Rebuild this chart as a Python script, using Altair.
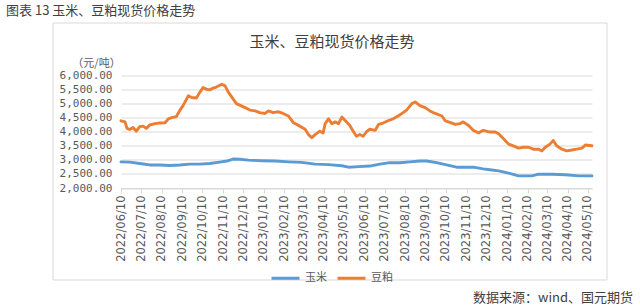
import altair as alt
import pandas as pd

# ---- data ----
meal_dates = [
    "2022/06/10", "2022/06/16", "2022/06/19", "2022/06/23", "2022/06/28", "2022/07/03", "2022/07/08",
    "2022/07/13", "2022/07/18", "2022/07/23", "2022/07/31", "2022/08/07", "2022/08/15", "2022/08/20",
    "2022/08/25", "2022/09/01", "2022/09/06", "2022/09/11", "2022/09/19", "2022/09/24", "2022/10/01",
    "2022/10/06", "2022/10/11", "2022/10/16", "2022/10/21", "2022/10/26", "2022/10/31", "2022/11/08",
    "2022/11/13", "2022/11/18", "2022/11/25", "2022/11/30", "2022/12/13", "2022/12/20", "2022/12/28",
    "2023/01/04", "2023/01/12", "2023/01/17", "2023/01/24", "2023/02/01", "2023/02/08", "2023/02/16",
    "2023/02/23", "2023/03/05", "2023/03/13", "2023/03/18", "2023/03/23", "2023/03/28", "2023/04/04",
    "2023/04/09", "2023/04/12", "2023/04/17", "2023/04/22", "2023/04/27", "2023/05/02", "2023/05/07",
    "2023/05/12", "2023/05/19", "2023/05/24", "2023/05/29", "2023/06/03", "2023/06/08", "2023/06/13",
    "2023/06/18", "2023/06/26", "2023/07/01", "2023/07/08", "2023/07/16", "2023/07/23", "2023/07/31",
    "2023/08/07", "2023/08/12", "2023/08/20", "2023/08/25", "2023/09/01", "2023/09/09", "2023/09/16",
    "2023/09/24", "2023/10/04", "2023/10/09", "2023/10/16", "2023/10/24", "2023/10/31", "2023/11/05",
    "2023/11/13", "2023/11/20", "2023/11/28", "2023/12/05", "2023/12/15", "2023/12/23", "2023/12/28",
    "2024/01/04", "2024/01/12", "2024/01/19", "2024/01/27", "2024/02/03", "2024/02/11", "2024/02/18",
    "2024/02/26", "2024/03/02", "2024/03/07", "2024/03/14", "2024/03/19", "2024/03/24", "2024/04/01",
    "2024/04/08", "2024/04/16", "2024/04/23", "2024/05/01", "2024/05/06", "2024/05/16",
]
meal_values = [
    4390, 4350, 4120, 4080, 4150, 4020, 4180,
    4200, 4120, 4240, 4290, 4310, 4320, 4460,
    4500, 4540, 4750, 4930, 5280, 5220, 5200,
    5400, 5570, 5510, 5490, 5550, 5590, 5690,
    5630, 5400, 5170, 5000, 4860, 4770, 4740,
    4680, 4650, 4740, 4680, 4710, 4650, 4560,
    4330, 4200, 4090, 3900, 3790, 3900, 4020,
    3960, 4290, 4460, 4290, 4350, 4290, 4520,
    4400, 4220, 4020, 3840, 3900, 3840, 4000,
    4090, 4050, 4260, 4310, 4400, 4460, 4570,
    4680, 4770, 5000, 5060, 4930, 4860, 4740,
    4650, 4560, 4390, 4330, 4260, 4290, 4350,
    4220, 4050, 3960, 4050, 3990, 3990, 3930,
    3760, 3560, 3500, 3420, 3450, 3450, 3380,
    3380, 3320, 3450, 3560, 3690, 3500, 3380,
    3320, 3350, 3380, 3420, 3530, 3500,
]

corn_dates = [
    "2022/06/10", "2022/06/23", "2022/07/08", "2022/07/23", "2022/08/07", "2022/08/22", "2022/09/06",
    "2022/09/21", "2022/10/06", "2022/10/21", "2022/11/05", "2022/11/18", "2022/11/25", "2022/12/05",
    "2022/12/18", "2023/01/07", "2023/01/27", "2023/02/16", "2023/03/08", "2023/03/28", "2023/04/17",
    "2023/05/07", "2023/05/17", "2023/06/01", "2023/06/18", "2023/07/03", "2023/07/18", "2023/08/02",
    "2023/08/17", "2023/09/01", "2023/09/11", "2023/09/26", "2023/10/11", "2023/10/26", "2023/11/10",
    "2023/11/20", "2023/12/05", "2023/12/15", "2023/12/28", "2024/01/12", "2024/01/27", "2024/02/16",
    "2024/02/26", "2024/03/17", "2024/04/06", "2024/04/26", "2024/05/16",
]
corn_values = [
    2930, 2920, 2870, 2820, 2820, 2800, 2820,
    2850, 2850, 2870, 2920, 2970, 3030, 3020,
    2990, 2970, 2960, 2930, 2910, 2850, 2830,
    2790, 2740, 2760, 2780, 2850, 2900, 2900,
    2930, 2960, 2960, 2900, 2820, 2740, 2740,
    2740, 2680, 2650, 2610, 2530, 2430, 2430,
    2490, 2490, 2470, 2430, 2430,
]

series_names = ["玉米", "豆粕"]
series_colors = ["#5b9bd5", "#ed7d31"]
y_ticks = [2000, 2500, 3000, 3500, 4000, 4500, 5000, 5500, 6000]
x_tick_months = [(2022, m) for m in range(6, 13)] + [(2023, m) for m in range(1, 13)] + [(2024, m) for m in range(1, 6)]

fig_title = "图表 13 玉米、豆粕现货价格走势"
chart_title = "玉米、豆粕现货价格走势"
unit_text = "（元/吨）"
source_text = "数据来源：wind、国元期货"

# ---- build table ----
df = pd.concat([
    pd.DataFrame({"date": corn_dates, "value": corn_values, "series": series_names[0]}),
    pd.DataFrame({"date": meal_dates, "value": meal_values, "series": series_names[1]}),
], ignore_index=True)

W, H = 471, 112.5
CJK = "Noto Sans CJK SC"

x_values = [alt.DateTime(year=y, month=m, date=10) for y, m in x_tick_months]

lines = alt.Chart(df).mark_line(strokeWidth=2.9, strokeJoin="round", strokeCap="round").encode(
    x=alt.X("date:T",
            scale=alt.Scale(domain=[alt.DateTime(year=2022, month=6, date=10),
                                    alt.DateTime(year=2024, month=5, date=16)]),
            axis=alt.Axis(title=None, values=x_values, format="%Y/%m/%d", labelAngle=270,
                          labelFont="DejaVu Sans", labelFontSize=11.5, labelColor="#595959",
                          labelPadding=2, tickSize=5, tickColor="#d9d9d9", domainColor="#d9d9d9",
                          grid=False, labelOverlap=False, labelFlush=False)),
    y=alt.Y("value:Q",
            scale=alt.Scale(domain=[2000, 6000], nice=False, zero=False),
            axis=alt.Axis(values=y_ticks, format=",.2f", labelFont="DejaVu Sans Mono",
                          labelFontSize=11, labelColor="#595959", labelPadding=9,
                          ticks=False, domain=False, grid=True, gridColor="#d9d9d9",
                          title=unit_text, titleAngle=0, titleAlign="center", titleBaseline="middle",
                          titleX=-25, titleY=-12.5, titleFont=CJK, titleFontSize=11,
                          titleFontWeight="normal", titleColor="#595959")),
    color=alt.Color("series:N",
                    scale=alt.Scale(domain=series_names, range=series_colors),
                    sort=series_names,
                    legend=alt.Legend(title=None, orient="none", direction="horizontal",
                                      legendX=149, legendY=187, symbolType="stroke",
                                      symbolSize=784, symbolStrokeWidth=3, labelFont=CJK,
                                      labelFontSize=11, labelColor="#595959", labelOffset=4,
                                      columnPadding=4)),
)

frame = alt.Chart(pd.DataFrame({"k": [0]})).mark_rect(
    fill="white", fillOpacity=0, stroke="#d9d9d9", strokeWidth=1
).encode(x=alt.value(-68), x2=alt.value(486), y=alt.value(-52.5), y2=alt.value(204.5))

def label(text, x, y, size, align, color):
    return alt.Chart(pd.DataFrame({"t": [text]})).mark_text(
        font=CJK, fontSize=size, align=align, baseline="middle", color=color
    ).encode(text="t:N", x=alt.value(x), y=alt.value(y))

chart = alt.layer(
    frame,
    lines,
    label(fig_title, -115, -64.5, 13, "left", "#404040"),
    label(chart_title, 211, -33.5, 15, "center", "#404040"),
    label(source_text, 512, 222.5, 13, "right", "#404040"),
).properties(
    width=W, height=H,
    autosize=alt.AutoSizeParams(type="none"),
    padding={"left": 121, "top": 75.5, "right": 48, "bottom": 120},
    background="white",
).configure_view(stroke=None)

chart.save("out.html", embed_options={"renderer": "svg", "actions": False})
